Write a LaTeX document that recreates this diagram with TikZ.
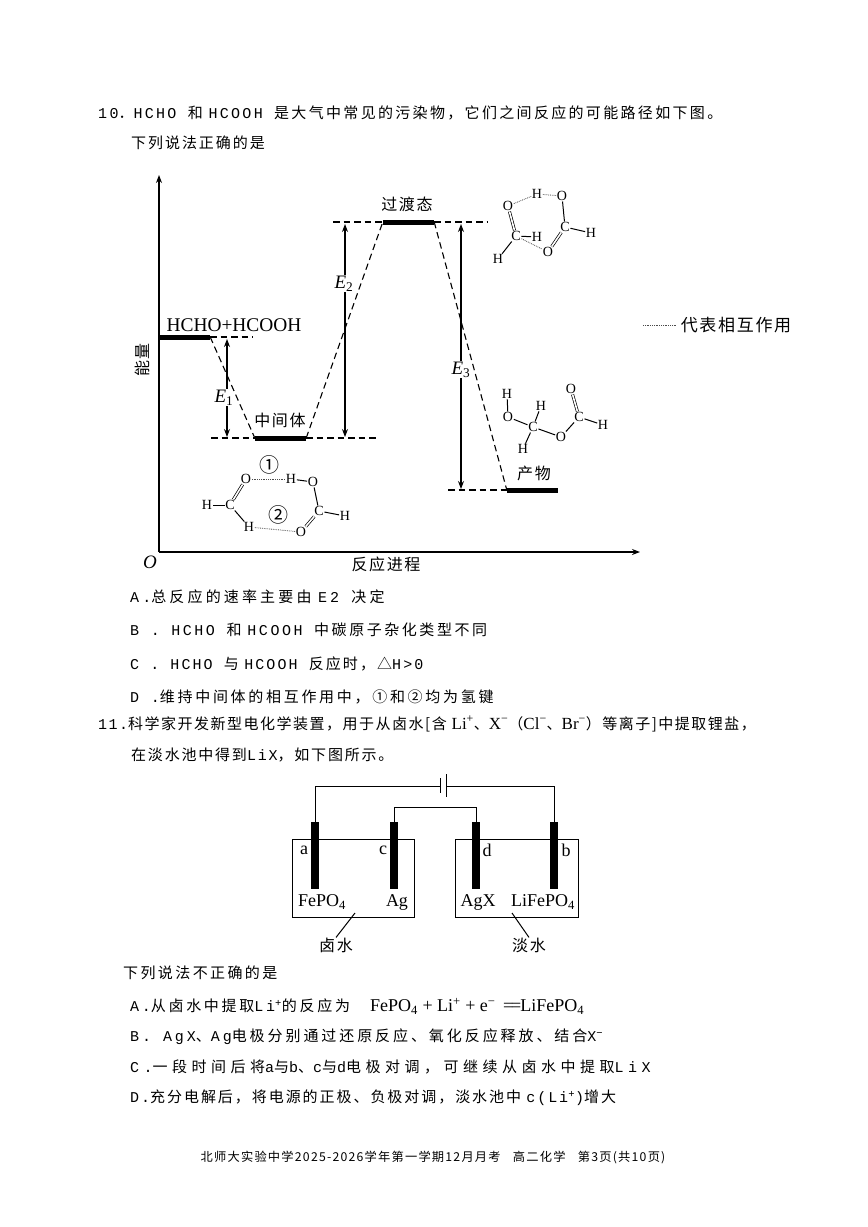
\documentclass[tikz,border=0pt]{standalone}
\usepackage{fontspec}
\usetikzlibrary{arrows.meta}
\setmainfont[LetterSpace=10]{Noto Sans CJK SC}
\newfontfamily\chem{Liberation Serif}
\newcommand{\ionsup}[1]{\textsuperscript{#1}}
\newcommand{\zh}{\fontspec[LetterSpace=\ls]{Noto Sans CJK SC}}
\newcommand{\en}{\fontspec[LetterSpace=\ls]{Liberation Mono}}

\begin{document}
\begin{tikzpicture}[x=1pt, y=-1pt, >={Stealth[length=8pt, width=6pt]},
    textline/.style = {anchor=west, inner sep=0pt, font=\def\ls{#1}\fontsize{15}{18}\zh},
    caption/.style = {inner sep=0pt, font=\fontsize{16}{18}\selectfont},
    chemlabel/.style = {inner sep=0pt, font=\chem\fontsize{18}{20}\selectfont},
    energy/.style = {inner sep=1pt, fill=white, font=\chem\fontsize{19}{21}\selectfont},
    level/.style = {rectangle, fill=black, inner sep=0pt, minimum width=51pt, minimum height=5pt},
    guide/.style = {line width=1.1pt, dash pattern=on 6.5pt off 4pt},
    span/.style = {<->, line width=1.1pt},
    atom/.style = {inner sep=0.6pt, font=\chem\fontsize{14}{15}\selectfont},
    bond/.style = {line width=1pt},
    dbond/.style = {line width=0.7pt, double, double distance=1.6pt},
    hbond/.style = {line width=0.8pt, densely dotted, black!70},
    wire/.style = {line width=1pt},
    electrode/.style = {rectangle, fill=black, inner sep=0pt, minimum width=8pt, minimum height=67pt},
    cell/.style = {rectangle, draw, line width=1pt, inner sep=0pt, minimum height=78pt}]
  \useasboundingbox (0, 0) rectangle (868, 1227);

  % Question 10.
  \node at (98, 113) [textline=15.5, name=QTenA] {\en 10\zh ．\en HCHO \zh 和 \en HCOOH \zh 是大气中常见的污染物，它们之间反应的可能路径如下图。};
  \node at (131, 143) [textline=13, name=QTenB] {下列说法正确的是};
  \node at (130, 597) [textline=21, name=TenOptA] {\en A.\zh 总反应的速率主要由 \en E2 \zh 决定};
  \node at (130, 630) [textline=17, name=TenOptB] {\en B . HCHO \zh 和 \en HCOOH \zh 中碳原子杂化类型不同};
  \node at (130, 664) [textline=14, name=TenOptC] {\en C . HCHO \zh 与 \en HCOOH \zh 反应时，△\en H>0};
  \node at (130, 697) [textline=18, name=TenOptD] {\en D .\zh 维持中间体的相互作用中，①和②均为氢键};

  % Axes.
  \coordinate (origin) at (159, 552);
  \coordinate (yEnd) at (159, 175);
  \coordinate (xEnd) at (640, 552);
  \draw [->, line width=1.1pt] (origin) to (yEnd);
  \draw [->, line width=1.1pt] (origin) to (xEnd);
  \node at (150, 562) [chemlabel, font=\chem\fontsize{19}{20}\selectfont, name=OriginLabel] {\itshape O};
  \node at (142, 360) [caption, rotate=90, name=EnergyLabel] {能量};
  \node at (386, 564) [caption, name=ProgressLabel] {反应进程};

  % Energy levels.
  \node at (184.5, 337) [level, name=Reactant] {};
  \node at (280.5, 438) [level, name=Intermediate] {};
  \node at (408.5, 222) [level, name=TransitionState] {};
  \node at (532.5, 490) [level, name=Product] {};
  \node at (234, 325) [chemlabel, font=\chem\fontsize{19.4}{20}\selectfont, name=ReactantLabel] {HCHO+HCOOH};
  \node at (280, 420) [caption, name=IntermediateLabel] {中间体};
  \node at (407, 204) [caption, name=TransitionLabel] {过渡态};
  \node at (534, 473) [caption, name=ProductLabel] {产物};

  % Ends of the guide lines.
  \coordinate (reactantEnd) at (253, 337);
  \coordinate (intermediateStart) at (211, 438);
  \coordinate (intermediateEnd) at (378, 438);
  \coordinate (transitionStart) at (333, 222);
  \coordinate (transitionEnd) at (487, 222);
  \coordinate (productStart) at (448, 490);

  % Energy differences.
  \coordinate (eOneTop) at (227, 339);
  \coordinate (eOneBottom) at (227, 437);
  \coordinate (eTwoTop) at (345, 224);
  \coordinate (eTwoBottom) at (345, 437);
  \coordinate (eThreeTop) at (461, 224);
  \coordinate (eThreeBottom) at (461, 489);
  \draw [span] (eOneTop)
             to node [energy, pos=0.6, xshift=-3pt, name=EOne] {\itshape E\textsubscript{\upshape 1}}
             (eOneBottom);
  \draw [span] (eTwoTop)
             to node [energy, pos=0.28, xshift=-1pt, name=ETwo] {\itshape E\textsubscript{\upshape 2}}
             (eTwoBottom);
  \draw [span] (eThreeTop)
             to node [energy, pos=0.55, name=EThree] {\itshape E\textsubscript{\upshape 3}}
             (eThreeBottom);

  % Guide lines.
  \draw [guide] (Reactant.east) to (reactantEnd);
  \draw [guide] (intermediateStart) to (Intermediate.west);
  \draw [guide] (Intermediate.east) to (intermediateEnd);
  \draw [guide] (transitionStart) to (TransitionState.west);
  \draw [guide] (TransitionState.east) to (transitionEnd);
  \draw [guide] (productStart) to (Product.west);
  \draw [guide] (Reactant.east) to (Intermediate.west);
  \draw [guide] (Intermediate.east) to (TransitionState.west);
  \draw [guide] (TransitionState.east) to (Product.west);

  % Intermediate molecule.
  \node at (207, 505) [atom, name=IntHa] {H};
  \node at (230, 505) [atom, name=IntCa] {C};
  \node at (246, 479) [atom, name=IntOa] {O};
  \node at (249, 527) [atom, name=IntHb] {H};
  \node at (291, 479) [atom, name=IntHc] {H};
  \node at (313, 482) [atom, name=IntOb] {O};
  \node at (319, 511) [atom, name=IntCb] {C};
  \node at (345, 516) [atom, name=IntHd] {H};
  \node at (301, 532) [atom, name=IntOc] {O};
  \node at (269, 465) [caption, font=\fontsize{20}{22}\selectfont, name=BondOne] {①};
  \node at (278, 515) [caption, font=\fontsize{20}{22}\selectfont, name=BondTwo] {②};
  \draw [bond] (IntHa) to (IntCa);
  \draw [dbond] (IntCa) to (IntOa);
  \draw [bond] (IntCa) to (IntHb);
  \draw [hbond] (IntOa) to (IntHc);
  \draw [bond] (IntHc) to (IntOb);
  \draw [bond] (IntOb) to (IntCb);
  \draw [bond] (IntCb) to (IntHd);
  \draw [dbond] (IntCb) to (IntOc);
  \draw [hbond] (IntHb) to (IntOc);

  % Transition state molecule.
  \node at (508, 206) [atom, name=TsOa] {O};
  \node at (516, 236) [atom, name=TsCa] {C};
  \node at (498, 259) [atom, name=TsHa] {H};
  \node at (537, 237) [atom, name=TsHb] {H};
  \node at (537, 194) [atom, name=TsHc] {H};
  \node at (562, 196) [atom, name=TsOb] {O};
  \node at (565, 227) [atom, name=TsCb] {C};
  \node at (591, 233) [atom, name=TsHd] {H};
  \node at (548, 252) [atom, name=TsOc] {O};
  \draw [dbond] (TsOa) to (TsCa);
  \draw [bond] (TsCa) to (TsHa);
  \draw [bond] (TsCa) to (TsHb);
  \draw [hbond] (TsOa) to (TsHc);
  \draw [hbond] (TsHc) to (TsOb);
  \draw [bond] (TsOb) to (TsCb);
  \draw [bond] (TsCb) to (TsHd);
  \draw [dbond] (TsCb) to (TsOc);
  \draw [hbond] (TsCa) to (TsOc);

  % Product molecule.
  \node at (507, 394) [atom, name=ProHa] {H};
  \node at (508, 417) [atom, name=ProOa] {O};
  \node at (533, 427) [atom, name=ProCa] {C};
  \node at (541, 406) [atom, name=ProHb] {H};
  \node at (523, 449) [atom, name=ProHc] {H};
  \node at (561, 437) [atom, name=ProOb] {O};
  \node at (579, 417) [atom, name=ProCb] {C};
  \node at (571, 389) [atom, name=ProOc] {O};
  \node at (603, 425) [atom, name=ProHd] {H};
  \draw [bond] (ProHa) to (ProOa);
  \draw [bond] (ProOa) to (ProCa);
  \draw [bond] (ProCa) to (ProHb);
  \draw [bond] (ProCa) to (ProHc);
  \draw [bond] (ProCa) to (ProOb);
  \draw [bond] (ProOb) to (ProCb);
  \draw [dbond] (ProCb) to (ProOc);
  \draw [bond] (ProCb) to (ProHd);

  % Legend.
  \coordinate (legendStart) at (643, 325);
  \node at (736, 325) [caption, font=\fontsize{17}{18}\selectfont, name=LegendLabel] {代表相互作用};
  \draw [hbond, shorten >=5pt] (legendStart) to (LegendLabel.west);

  % Question 11.
  \node at (98, 724) [textline=10, name=QElevenA] {\en 11.\zh 科学家开发新型电化学装置，用于从卤水[含\ {\chem\fontsize{17}{18}\selectfont Li\ionsup{+}}、{\chem\fontsize{17}{18}\selectfont X\ionsup{−}}（{\chem\fontsize{17}{18}\selectfont Cl\ionsup{−}}、{\chem\fontsize{17}{18}\selectfont Br\ionsup{−}}）等离子]中提取锂盐，};
  \node at (131, 755) [textline=12, name=QElevenB] {在淡水池中得到\en LiX\zh ，如下图所示。};

  % Cells.
  \node at (353, 878) [cell, minimum width=122pt, name=BrineCell] {};
  \node at (516.5, 878) [cell, minimum width=123pt, name=FreshCell] {};

  % Electrodes.
  \node at (315, 855.5) [electrode, name=ElectrodeA] {};
  \node at (394, 855.5) [electrode, name=ElectrodeC] {};
  \node at (476, 855.5) [electrode, name=ElectrodeD] {};
  \node at (554, 855.5) [electrode, name=ElectrodeB] {};

  % Wires and power source.
  \coordinate (plateShort) at (440, 786);
  \coordinate (plateLong) at (446, 786);
  \coordinate (plateShortA) at (440, 778);
  \coordinate (plateShortB) at (440, 793);
  \coordinate (plateLongA) at (446, 774);
  \coordinate (plateLongB) at (446, 797);
  \coordinate (linkTop) at (435, 807);
  \draw [wire] (ElectrodeA.north) |- (plateShort);
  \draw [wire] (ElectrodeB.north) |- (plateLong);
  \draw [wire] (plateShortA) to (plateShortB);
  \draw [wire] (plateLongA) to (plateLongB);
  \draw [wire] (ElectrodeC.north) |- (linkTop) -| (ElectrodeD.north);

  % Cell labels.
  \node at (304, 850) [chemlabel, name=LabelA] {a};
  \node at (383, 850) [chemlabel, name=LabelC] {c};
  \node at (487, 850) [chemlabel, name=LabelD] {d};
  \node at (566, 850) [chemlabel, name=LabelB] {b};
  \node at (322, 902) [chemlabel, name=LabelFePO] {FePO\textsubscript{4}};
  \node at (397, 902) [chemlabel, name=LabelAg] {Ag};
  \node at (478, 902) [chemlabel, name=LabelAgX] {AgX};
  \node at (543, 902) [chemlabel, name=LabelLiFePO] {LiFePO\textsubscript{4}};
  \node at (336, 945) [caption, name=BrineLabel] {卤水};
  \node at (529, 945) [caption, name=FreshLabel] {淡水};
  \coordinate (brinePoint) at (355, 913);
  \coordinate (freshPoint) at (512, 913);
  \draw [wire] (brinePoint) to (BrineLabel.north);
  \draw [wire] (freshPoint) to (FreshLabel.north);

  % Options of question 11.
  \node at (123, 973) [textline=16, name=QElevenC] {下列说法不正确的是};
  \node at (130, 1006) [textline=18, name=ElevenOptA] {\en A.\zh 从卤水中提取\en Li\ionsup{+}\zh 的反应为};
  \node at (370, 1006) [textline=10, font=\chem\fontsize{18}{20}\selectfont, name=ElevenEq] {FePO\textsubscript{4} + Li\ionsup{+} + e\ionsup{−} \,=\kern-2pt=\kern-1pt LiFePO\textsubscript{4}};
  \node at (130, 1037) [textline=19.5, name=ElevenOptB] {\en B. AgX\zh 、\en Ag\zh 电极分别通过还原反应、氧化反应释放、结合\en X\ionsup{−}};
  \node at (130, 1067) [textline=30, name=ElevenOptC] {\en C.\zh 一段时间后将\en a\zh 与\en b\zh 、\en c\zh 与\en d\zh 电极对调，可继续从卤水中提取\en LiX};
  \node at (130, 1098) [textline=13, name=ElevenOptD] {\en D.\zh 充分电解后，将电源的正极、负极对调，淡水池中 \en c(Li\ionsup{+})\zh 增大};

  % Footer.
  \node at (433, 1157) [inner sep=0pt, font=\fontsize{12.25}{14}\selectfont, name=Footer] {北师大实验中学2025-2026学年第一学期12月月考\quad 高二化学\quad 第3页(共10页)};
\end{tikzpicture}
\end{document}
